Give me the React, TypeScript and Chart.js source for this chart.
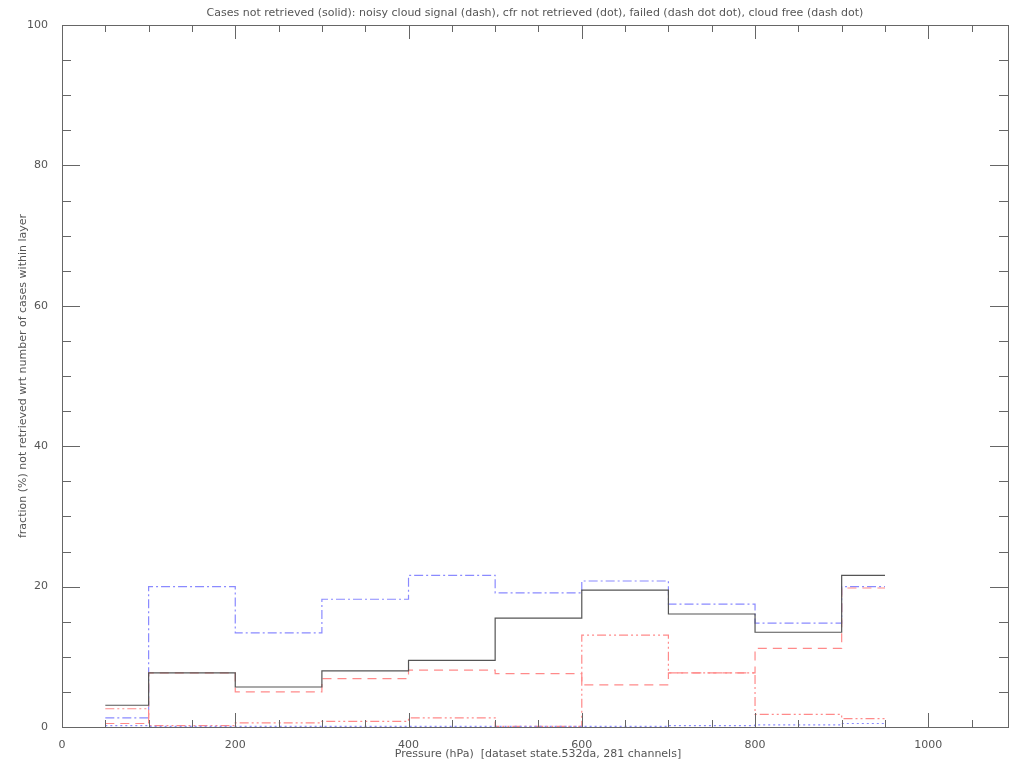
import { useEffect, useRef } from "react"
import { Chart, registerables } from "chart.js"

Chart.register(...registerables)

const edges = [50, 100, 200, 300, 400, 500, 600, 700, 800, 900, 950]
const notRetrieved = [3.1, 7.7, 5.7, 8.0, 9.5, 15.5, 19.5, 16.1, 13.5, 21.6]
const noisyCloud = [0.5, 7.7, 5.0, 6.9, 8.1, 7.6, 6.0, 7.7, 11.2, 19.8]
const cfrNotRetrieved = [0.2, 0.1, 0.1, 0.1, 0.1, 0.1, 0.1, 0.2, 0.3, 0.5]
const failed = [2.6, 0.2, 0.6, 0.8, 1.3, 0.1, 13.1, 7.7, 1.8, 1.2]
const cloudFree = [1.3, 20.0, 13.4, 18.2, 21.6, 19.1, 20.8, 17.5, 14.8, 20.0]

const steps = (vals: number[]) =>
  edges.map((x, i) => ({ x, y: vals[Math.min(i, vals.length - 1)] }))

const FONT = "11px 'DejaVu Sans'"
const INK = "#555"

// IDL-style box with inward ticks on all four sides
const boxPlugin = {
  id: "idlBox",
  afterDraw(chart: Chart) {
    const { ctx, chartArea: a } = chart
    const xs = chart.scales.x
    const ys = chart.scales.y
    ctx.save()
    ctx.strokeStyle = "#666"
    ctx.lineWidth = 1
    ctx.strokeRect(a.left + 0.5, a.top + 0.5, a.right - a.left, a.bottom - a.top)
    ctx.beginPath()
    for (let v = 0; v <= 1100; v += 50) {
      const p = Math.round(xs.getPixelForValue(v)) + 0.5
      if (p > a.right) break
      const len = v % 200 === 0 ? 14 : 7
      ctx.moveTo(p, a.bottom); ctx.lineTo(p, a.bottom - len)
      ctx.moveTo(p, a.top); ctx.lineTo(p, a.top + len)
    }
    for (let v = 0; v <= 100; v += 5) {
      const p = Math.round(ys.getPixelForValue(v)) + 0.5
      const len = v % 20 === 0 ? 18 : 9
      ctx.moveTo(a.left, p); ctx.lineTo(a.left + len, p)
      ctx.moveTo(a.right, p); ctx.lineTo(a.right - len, p)
    }
    ctx.stroke()
    ctx.fillStyle = INK
    ctx.font = FONT
    ctx.textAlign = "center"
    ctx.fillText(
      "Cases not retrieved (solid): noisy cloud signal (dash), cfr not retrieved (dot), failed (dash dot dot), cloud free (dash dot)",
      (a.left + a.right) / 2, 16)
    ctx.fillText("Pressure (hPa)  [dataset state.532da, 281 channels]", 538, 757)
    ctx.translate(26, (a.top + a.bottom) / 2)
    ctx.rotate(-Math.PI / 2)
    ctx.fillText("fraction (%) not retrieved wrt number of cases within layer", 0, 0)
    ctx.restore()
  },
}

export default function App() {
  const ref = useRef<HTMLCanvasElement>(null)
  const inst = useRef<Chart | null>(null)

  useEffect(() => {
    document.body.style.margin = "0"
    if (!ref.current) return
    if (inst.current) inst.current.destroy()
    const ds = (label: string, vals: number[], color: string, dash: number[]) => ({
      label, data: steps(vals), borderColor: color, borderDash: dash,
      borderWidth: 1.2, pointRadius: 0, stepped: "before" as const, fill: false,
    })
    inst.current = new Chart(ref.current, {
      type: "line",
      data: {
        datasets: [
          ds("not retrieved", notRetrieved, "#555", []),
          ds("noisy cloud signal", noisyCloud, "#ff8a8a", [9, 6]),
          ds("cfr not retrieved", cfrNotRetrieved, "#8a8aff", [2, 3]),
          ds("failed", failed, "#ff8a8a", [9, 3, 2, 3, 2, 3]),
          ds("cloud free", cloudFree, "#8a8aff", [9, 3, 2, 3]),
        ],
      },
      options: {
        responsive: false,
        animation: false,
        layout: { padding: { top: 25, right: 1, left: 0, bottom: 0 } },
        plugins: { legend: { display: false }, tooltip: { enabled: false } },
        scales: {
          x: {
            type: "linear", min: 0, max: 1092,
            afterFit: (s: any) => { s.height = 36 },
            afterBuildTicks: (s: any) => { s.ticks = [0, 200, 400, 600, 800, 1000].map((v) => ({ value: v })) },
            grid: { display: false }, border: { display: false },
            ticks: { color: INK, font: { family: "DejaVu Sans", size: 11 }, maxRotation: 0, padding: 4, callback: (v: any) => String(v) },
          },
          y: {
            min: 0, max: 100,
            afterFit: (s: any) => { s.width = 62 },
            grid: { display: false }, border: { display: false },
            ticks: { stepSize: 20, color: INK, font: { family: "DejaVu Sans", size: 11 }, padding: 6 },
          },
        },
      },
      plugins: [boxPlugin],
    })
    return () => { inst.current?.destroy(); inst.current = null }
  }, [])

  return <canvas ref={ref} width={1009} height={763} style={{ display: "block" }} />
}
